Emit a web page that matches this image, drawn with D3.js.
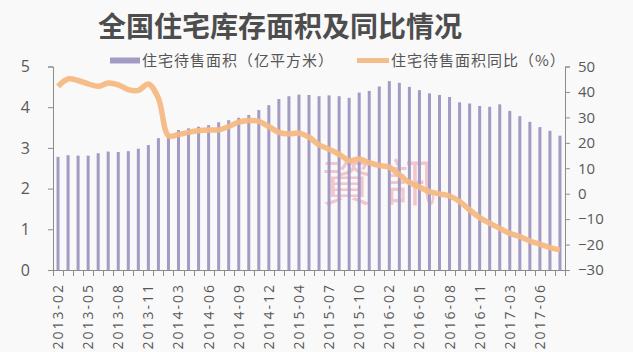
<!DOCTYPE html>
<html>
<head>
<meta charset="utf-8">
<script src="https://cdn.jsdelivr.net/npm/d3@7"></script>
<style>
  body { margin: 0; background: #f9f9f9; }
  svg { display: block; }
  .axis path, .axis line { stroke: #8c8c8c; }
  .axis text { fill: #595959; font-family: "Open Sans", sans-serif; }
</style>
</head>
<body>
<div id="chart"></div>
<script>
// months (no January in the stats)
var months = [
  "2013-02","2013-03","2013-04","2013-05","2013-06","2013-07","2013-08","2013-09","2013-10","2013-11","2013-12",
  "2014-02","2014-03","2014-04","2014-05","2014-06","2014-07","2014-08","2014-09","2014-10","2014-11","2014-12",
  "2015-02","2015-03","2015-04","2015-05","2015-06","2015-07","2015-08","2015-09","2015-10","2015-11","2015-12",
  "2016-02","2016-03","2016-04","2016-05","2016-06","2016-07","2016-08","2016-09","2016-10","2016-11","2016-12",
  "2017-02","2017-03","2017-04","2017-05","2017-06","2017-07","2017-08"
];

// 住宅待售面积 (亿平方米)
var area = [
  2.78,2.82,2.81,2.81,2.87,2.91,2.90,2.92,2.98,3.07,3.24,
  3.32,3.44,3.48,3.52,3.56,3.63,3.68,3.74,3.81,3.93,4.05,
  4.20,4.27,4.31,4.30,4.27,4.29,4.27,4.23,4.36,4.40,4.51,
  4.64,4.60,4.50,4.42,4.34,4.30,4.25,4.12,4.09,4.03,4.01,
  4.07,3.91,3.78,3.64,3.51,3.42,3.30
];

// 住宅待售面积同比 (%)
var yoy = [
  42.2,45.1,44.5,43.2,42.2,43.5,42.8,40.9,40.6,43.1,37.5,
  22.8,23.3,24.1,24.7,25.0,25.1,26.4,28.1,28.8,28.4,26.4,
  24.1,23.5,23.8,22.2,19.2,17.5,15.5,13.0,13.6,12.2,11.1,
  10.4,7.4,4.4,2.6,0.8,-0.1,-0.9,-3.1,-6.4,-9.4,-11.6,
  -13.6,-15.6,-16.9,-18.6,-19.9,-21.2,-22.1
];

var leftTicks = [0, 1, 2, 3, 4, 5];
var rightTicks = [-30, -20, -10, 0, 10, 20, 30, 40, 50];

var W = 633, H = 352;
var margin = { top: 66.5, left: 53, right: 68, bottom: 82 };

var svg = d3.select("#chart").append("svg")
  .attr("width", W)
  .attr("height", H);

var x = d3.scaleBand()
  .domain(months)
  .range([margin.left, W - margin.right])
  .paddingInner(0.7)
  .paddingOuter(0.35);

var yL = d3.scaleLinear().domain([0, 5]).range([H - margin.bottom, margin.top]);
var yR = d3.scaleLinear().domain([-30, 50]).range([H - margin.bottom, margin.top]);

// title
svg.append("text")
  .attr("x", 280)
  .attr("y", 37)
  .attr("text-anchor", "middle")
  .style("font-family", "'Noto Sans CJK SC', sans-serif")
  .style("font-weight", "bold")
  .style("font-size", "28px")
  .style("fill", "#4d4d4d")
  .text("全国住宅库存面积及同比情况");

// legend
var lg = svg.append("g")
  .style("font-family", "'Noto Sans CJK SC', sans-serif")
  .style("font-size", "15px")
  .style("letter-spacing", "1px");
lg.append("rect").attr("x", 110).attr("y", 57.5).attr("width", 30).attr("height", 6).attr("fill", "#a49bc5");
lg.append("text").attr("x", 142).attr("y", 66).style("fill", "#555").text("住宅待售面积（亿平方米）");
lg.append("line").attr("x1", 357).attr("x2", 389).attr("y1", 60.5).attr("y2", 60.5)
  .attr("stroke", "#f5bd8c").attr("stroke-width", 5);
lg.append("text").attr("x", 391).attr("y", 66).style("fill", "#555").text("住宅待售面积同比（%）");

// watermark
svg.append("text")
  .attr("x", 322)
  .attr("y", 201)
  .style("font-family", "'Noto Sans CJK TC', serif")
  .style("font-size", "50px")
  .style("letter-spacing", "14px")
  .style("fill", "#e77c8a")
  .style("opacity", 0.4)
  .text("資訊");

// bars
svg.append("g")
  .selectAll("rect")
  .data(area)
  .enter()
  .append("rect")
  .attr("x", function(d, i) { return x(months[i]); })
  .attr("width", x.bandwidth())
  .attr("y", function(d) { return yL(d); })
  .attr("height", function(d) { return yL(0) - yL(d); })
  .attr("fill", "#a49bc5");

// line
var line = d3.line()
  .x(function(d, i) { return x(months[i]) + x.bandwidth() / 2; })
  .y(function(d) { return yR(d); })
  .curve(d3.curveCatmullRom);

svg.append("path")
  .datum(yoy)
  .attr("d", line)
  .attr("fill", "none")
  .attr("stroke", "#f5b983")
  .attr("stroke-width", 5.5)
  .attr("stroke-linejoin", "round")
  .attr("opacity", 0.95);

// axes
svg.append("g")
  .attr("class", "axis")
  .attr("transform", "translate(" + margin.left + ",0)")
  .call(d3.axisLeft(yL).tickValues(leftTicks).tickFormat(d3.format("d")).tickSize(5).tickPadding(18))
  .selectAll("text").style("font-size", "16px");

svg.append("g")
  .attr("class", "axis")
  .attr("transform", "translate(" + (W - margin.right) + ",0)")
  .call(d3.axisRight(yR).tickValues(rightTicks).tickSize(5).tickPadding(8))
  .selectAll("text").style("font-size", "15px");

// x axis: ticks on band edges, labels every third month
var xg = svg.append("g")
  .attr("class", "axis")
  .attr("transform", "translate(0," + (H - margin.bottom) + ")");

xg.append("line")
  .attr("x1", margin.left).attr("x2", W - margin.right)
  .attr("y1", 0.5).attr("y2", 0.5)
  .attr("stroke", "#8c8c8c");

xg.selectAll(".edge")
  .data(months.concat(["end"]))
  .enter()
  .append("line")
  .attr("class", "edge")
  .attr("x1", function(d, i) { return Math.round(margin.left + i * x.step()) + 0.5; })
  .attr("x2", function(d, i) { return Math.round(margin.left + i * x.step()) + 0.5; })
  .attr("y1", 0)
  .attr("y2", 6)
  .attr("stroke", "#8c8c8c");

xg.selectAll(".lbl")
  .data(months.filter(function(d, i) { return i % 3 === 0; }))
  .enter()
  .append("text")
  .attr("class", "lbl")
  .attr("transform", function(d) {
    return "translate(" + (x(d) + x.bandwidth() / 2 + 5) + ",13) rotate(-90)";
  })
  .attr("text-anchor", "end")
  .style("font-size", "14px")
  .style("letter-spacing", "2px")
  .text(function(d) { return d; });
</script>
</body>
</html>
